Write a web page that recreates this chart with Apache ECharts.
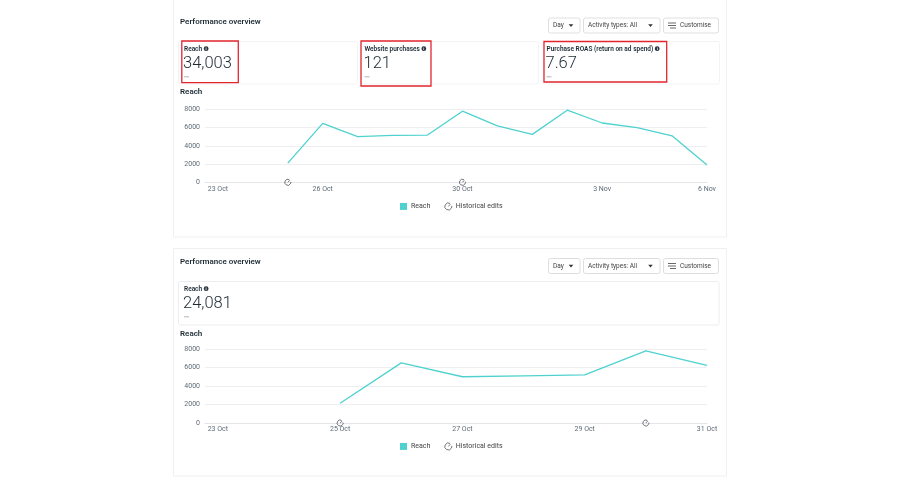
<!DOCTYPE html>
<html>
<head>
    <meta charset="utf-8" />
    <title>Performance overview</title>
    <script src="https://cdn.jsdelivr.net/npm/echarts@6/dist/echarts.min.js"></script>
    <style>html, body { margin: 0; background: #fff; }</style>
</head>
<body>
    <div id="main" style="width:900px;height:500px;"></div>
    <script type="text/javascript">
        // top panel data
        var topDays = ['23 Oct', '24 Oct', '25 Oct', '26 Oct', '27 Oct', '28 Oct', '29 Oct', '30 Oct',
            '31 Oct', '1 Nov', '2 Nov', '3 Nov', '4 Nov', '5 Nov', '6 Nov'];
        var topReach = [null, null, 2100, 6450, 5000, 5150, 5180, 7790, 6180, 5250, 7900, 6500, 6000, 5100, 1900];
        var topTicks = ['23 Oct', '26 Oct', '30 Oct', '3 Nov', '6 Nov'];
        var topEdits = ['25 Oct', '30 Oct'];
        var topMetricNames = ['Reach', 'Website purchases', 'Purchase ROAS (return on ad spend)'];
        var topMetricValues = ['34,003', '121', '7.67'];

        // bottom panel data
        var bottomDays = ['23 Oct', '24 Oct', '25 Oct', '26 Oct', '27 Oct', '28 Oct', '29 Oct', '30 Oct', '31 Oct'];
        var bottomReach = [null, null, 2140, 6500, 5000, 5100, 5200, 7790, 6230];
        var bottomTicks = ['23 Oct', '25 Oct', '27 Oct', '29 Oct', '31 Oct'];
        var bottomEdits = ['25 Oct', '30 Oct'];
        var bottomMetricNames = ['Reach'];
        var bottomMetricValues = ['24,081'];

        var yTicks = [0, 2000, 4000, 6000, 8000];

        var font = 'Roboto, "Noto Sans", sans-serif';
        var dark = '#1c2b33';
        var grey = '#5f6b76';
        var teal = '#4fd2cf';
        var editIcon = 'path://M11,2.8A6,6,0,1,0,13.9,7M8,8L11.6,4.2';

        var ctx = document.createElement('canvas').getContext('2d');
        function textWidth(s, f) { ctx.font = f; return ctx.measureText(s).width; }

        function txt(x, y, s, size, weight, color) {
            var f = weight + ' ' + size + 'px ' + font;
            return {
                type: 'text', x: x, y: y, silent: true,
                style: { text: s, font: f, fill: color, align: 'left', verticalAlign: 'middle',
                    textAlign: 'left', textVerticalAlign: 'middle' }
            };
        }
        function box(x, y, w, h, stroke, lw, r) {
            return { type: 'rect', silent: true, shape: { x: x, y: y, width: w, height: h, r: r || 0 },
                style: { fill: 'transparent', stroke: stroke, lineWidth: lw } };
        }
        function line(x1, y1, x2, y2, color, lw) {
            return { type: 'line', silent: true, shape: { x1: x1, y1: y1, x2: x2, y2: y2 },
                style: { stroke: color, lineWidth: lw } };
        }
        function arrow(cx, cy) {
            return { type: 'polygon', silent: true, shape: { points: [[cx - 2.3, cy - 1.2], [cx + 2.3, cy - 1.2], [cx, cy + 1.4]] },
                style: { fill: '#333' } };
        }
        function info(cx, cy) {
            return [
                { type: 'circle', silent: true, shape: { cx: cx, cy: cy, r: 2.4 }, style: { fill: '#2b3540' } },
                { type: 'text', silent: true, x: cx, y: cy, style: { text: 'i', font: 'bold 4px ' + font, fill: '#fff',
                    align: 'center', verticalAlign: 'middle', textAlign: 'center', textVerticalAlign: 'middle' } }
            ];
        }

        function header(y, by) {
            var els = [txt(180, y, 'Performance overview', 8, 600, dark)];
            var bs = '#d3d7db';
            els.push(box(548.5, by, 31.5, 15, bs, 0.8, 2));
            els.push(txt(553, by + 7.5, 'Day', 6.5, 'normal', '#444'));
            els.push(arrow(571, by + 7.5));
            els.push(box(583.5, by, 76.5, 15, bs, 0.8, 2));
            els.push(txt(588, by + 7.5, 'Activity types: All', 6.5, 'normal', '#444'));
            els.push(arrow(650.5, by + 7.5));
            els.push(box(663.5, by, 55, 15, bs, 0.8, 2));
            els.push(line(668, by + 5, 676, by + 5, '#444', 0.8));
            els.push(line(668, by + 7.5, 676, by + 7.5, '#444', 0.8));
            els.push(line(670, by + 10, 676, by + 10, '#444', 0.8));
            els.push(txt(680, by + 7.5, 'Customise', 6.5, 'normal', '#444'));
            return els;
        }

        function metric(x, y, name, value) {
            var lf = '600 6.5px ' + font;
            var els = [txt(x + 1, y, name, 6.5, 600, dark)];
            els = els.concat(info(x + 1 + textWidth(name, lf) + 4, y - 0.3));
            els.push(txt(x, y + 14.5, value, 16.5, 300, dark));
            els.push(line(x + 1, y + 27.8, x + 6, y + 27.8, '#9aa1a8', 0.8));
            return els;
        }

        var g = [];
        // panels
        g.push(box(173.5, -5, 553, 242, '#eef0f2', 1));
        g.push(box(173.5, 248.5, 553, 227.5, '#eef0f2', 1));

        // top panel
        g = g.concat(header(22, 18));
        g.push(box(178.5, 41.5, 179, 42.5, '#eef0f2', 0.8, 2));
        g.push(box(361.5, 41.5, 177, 42.5, '#eef0f2', 0.8, 2));
        g.push(box(543.5, 41.5, 176, 42.5, '#eef0f2', 0.8, 2));
        var metricX = [183, 363.5, 545.5];
        for (var i = 0; i < topMetricNames.length; i++) {
            g = g.concat(metric(metricX[i], 49, topMetricNames[i], topMetricValues[i]));
        }
        g.push(box(181.8, 41, 56.5, 41.7, '#e3262e', 1.3));
        g.push(box(361, 41, 70, 45, '#e3262e', 1.3));
        g.push(box(544, 41.5, 122.7, 40.5, '#e3262e', 1.3));
        g.push(txt(180, 92, 'Reach', 8, 600, dark));

        // bottom panel
        g = g.concat(header(262, 258.5));
        g.push(box(178.5, 281.5, 540.5, 43.5, '#e6e8eb', 0.8, 2));
        g = g.concat(metric(183, 289, bottomMetricNames[0], bottomMetricValues[0]));
        g.push(txt(180, 333.5, 'Reach', 8, 600, dark));

        function pairs(days, vals) {
            var out = [];
            for (var i = 0; i < days.length; i++) {
                if (vals[i] !== null) out.push([i, vals[i]]);
            }
            return out;
        }
        function idx(days, list) { return list.map(function (d) { return days.indexOf(d); }); }

        function xAxis(gi, days, ticks, min) {
            return {
                gridIndex: gi, type: 'value', min: min, max: days.length - 1,
                axisLine: { show: true, lineStyle: { color: '#e4e6e9', width: 1 } },
                axisTick: { show: false }, splitLine: { show: false },
                axisLabel: {
                    customValues: idx(days, ticks),
                    formatter: function (v) { return days[Math.round(v)]; },
                    fontSize: 7, color: grey, fontFamily: font, margin: 3
                }
            };
        }
        function yAxis(gi) {
            return {
                gridIndex: gi, type: 'value', min: yTicks[0], max: yTicks[yTicks.length - 1], interval: yTicks[1] - yTicks[0],
                axisLine: { show: false }, axisTick: { show: false },
                splitLine: { lineStyle: { color: '#eceef1', width: 1 } },
                axisLabel: { fontSize: 7, color: grey, fontFamily: font, margin: 5,
                    formatter: function (v) { return String(v); } }
            };
        }
        function reachSeries(gi, days, vals) {
            return {
                type: 'line', name: 'Reach', xAxisIndex: gi, yAxisIndex: gi,
                data: pairs(days, vals), showSymbol: false, silent: true,
                lineStyle: { color: teal, width: 1.3 }, itemStyle: { color: teal }
            };
        }
        function editSeries(gi, days, edits) {
            return {
                type: 'scatter', name: 'Historical edits', xAxisIndex: gi, yAxisIndex: gi,
                data: idx(days, edits).map(function (i) { return [i, 0]; }),
                symbol: editIcon, symbolSize: 6, z: 5, silent: true,
                itemStyle: { color: 'rgba(0,0,0,0)', borderColor: '#3a3f45', borderWidth: 0.9 }
            };
        }
        function legend(top) {
            return {
                top: top, left: 400, padding: 0, itemWidth: 7, itemHeight: 7, itemGap: 14,
                selectedMode: false,
                textStyle: { fontSize: 7, color: '#444', fontFamily: font, padding: [0, 0, 0, -1] },
                data: [
                    { name: 'Reach', icon: 'rect', itemStyle: { color: teal } },
                    { name: 'Historical edits', icon: editIcon,
                        itemStyle: { color: 'rgba(0,0,0,0)', borderColor: '#3a3f45', borderWidth: 0.9 } }
                ]
            };
        }

        var myChart = echarts.init(document.getElementById('main'));
        var option = {
            animation: false,
            backgroundColor: '#fff',
            graphic: { elements: g },
            legend: [legend(202.5), legend(442.5)],
            grid: [
                { left: 205, right: 193, top: 109.3, bottom: 500 - 182.3 },
                { left: 205, right: 193, top: 349, bottom: 500 - 423 }
            ],
            xAxis: [xAxis(0, topDays, topTicks, -0.37), xAxis(1, bottomDays, bottomTicks, -0.21)],
            yAxis: [yAxis(0), yAxis(1)],
            series: [
                reachSeries(0, topDays, topReach), editSeries(0, topDays, topEdits),
                reachSeries(1, bottomDays, bottomReach), editSeries(1, bottomDays, bottomEdits)
            ]
        };
        myChart.setOption(option);
    </script>
</body>
</html>
